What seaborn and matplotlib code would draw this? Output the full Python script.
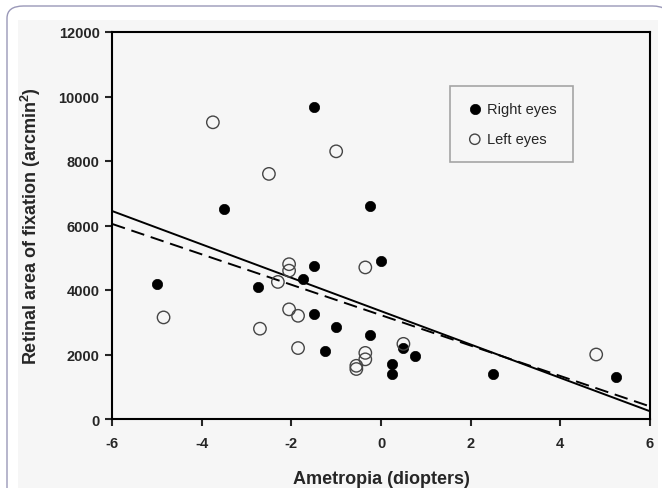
import pandas as pd
import matplotlib.pyplot as plt
import seaborn as sns
from matplotlib.patches import FancyBboxPatch, Rectangle

# Data
right_x = [-5.0, -3.5, -1.5, -2.75, -1.75, -1.5, -1.5, -1.0, -1.25, -0.25,
           0.0, -0.25, 0.25, 0.25, 0.5, 0.75, 2.5, 5.25]
right_y = [4200, 6500, 9670, 4100, 4350, 4750, 3250, 2850, 2100, 6600,
           4900, 2600, 1700, 1400, 2200, 1950, 1400, 1300]
left_x = [-4.85, -3.75, -2.5, -2.7, -1.0, -2.05, -2.05, -2.3, -2.05, -1.85,
          -1.85, -0.35, -0.35, -0.35, -0.55, -0.55, 0.5, 4.8]
left_y = [3150, 9200, 7600, 2800, 8300, 4800, 4600, 4250, 3400, 3200,
          2200, 4700, 2050, 1850, 1650, 1550, 2330, 2000]

# regression lines (end points at the axis limits)
fit_x = [-6, 6]
fit_solid_y = [6450, 240]
fit_dashed_y = [6050, 390]

df = pd.DataFrame({
    "Ametropia": right_x + left_x,
    "Area": right_y + left_y,
    "Eye": ["Right eyes"] * len(right_x) + ["Left eyes"] * len(left_x),
})
lines = pd.DataFrame({"x": fit_x, "solid": fit_solid_y, "dashed": fit_dashed_y})

sns.set_style("ticks")
plt.rcParams["font.family"] = ["Liberation Sans", "DejaVu Sans"]
plt.rcParams["mathtext.fontset"] = "custom"
plt.rcParams["mathtext.bf"] = "Liberation Sans:bold"
plt.rcParams["axes.unicode_minus"] = False

bg = "#f6f6f6"
W, H = 662, 489
fig = plt.figure(figsize=(6.62, 4.89), dpi=100)
fig.patch.set_facecolor("white")

# page frame and grey picture area
fig.patches.append(FancyBboxPatch((7 / W, -0.1), 1.0, 1.1 - 7 / H,
                                  boxstyle="round,pad=0,rounding_size=0.025",
                                  transform=fig.transFigure, facecolor="white",
                                  edgecolor="#9a98b8", linewidth=1.0, zorder=-2))
fig.patches.append(Rectangle((18 / W, 0), (658 - 18) / W, 1 - 21 / H,
                             transform=fig.transFigure, facecolor=bg,
                             edgecolor="none", zorder=-1))

ax = fig.add_axes([112 / W, 1 - 420 / H, 538 / W, 387 / H])
ax.set_facecolor(bg)

sns.scatterplot(data=df[df["Eye"] == "Right eyes"], x="Ametropia", y="Area",
                color="black", edgecolor="black", s=55, linewidth=0.5,
                ax=ax, label="Right eyes", zorder=3)
sns.scatterplot(data=df[df["Eye"] == "Left eyes"], x="Ametropia", y="Area",
                facecolor="none", edgecolor="#454545", s=80, linewidth=1.0,
                ax=ax, label="Left eyes", zorder=3)

sns.lineplot(data=lines, x="x", y="solid", color="black", linewidth=1.4, ax=ax)
sns.lineplot(data=lines, x="x", y="dashed", color="black", linewidth=1.4,
             ax=ax, linestyle=(0, (7, 3.5)))

ax.set_xlim(-6, 6)
ax.set_ylim(0, 12000)
ax.set_xticks(range(-6, 7, 2))
ax.set_yticks(range(0, 12001, 2000))
for s in ax.spines.values():
    s.set_visible(True)
    s.set_linewidth(1.5)
    s.set_color("black")
ax.tick_params(direction="out", length=5, width=1.5, labelsize=10.5)
ax.tick_params(axis="x", pad=7)
ax.tick_params(axis="y", pad=4)
for lab in ax.get_xticklabels() + ax.get_yticklabels():
    lab.set_fontweight("bold")

ax.set_xlabel("Ametropia (diopters)", fontsize=13, fontweight="bold")
ax.set_ylabel("Retinal area of fixation (arcmin$^\\mathbf{2}$)", fontsize=13,
              fontweight="bold")
ax.xaxis.set_label_coords(0.5, (420 - 471) / 387)
ax.yaxis.set_label_coords((43 - 112) / 538, 0.5)

leg = ax.legend(loc="upper left", bbox_to_anchor=((450 - 112) / 538, (420 - 87) / 387),
                frameon=True, fancybox=False, fontsize=10.5, borderpad=1.1,
                labelspacing=1.1, handletextpad=0.25, handlelength=1.2,
                borderaxespad=0)
leg.get_frame().set_edgecolor("#909090")
leg.get_frame().set_facecolor(bg)
leg.get_frame().set_linewidth(1.2)
for h in leg.legend_handles:
    h.set_sizes([55])

fig.savefig("out.png", dpi=100, facecolor=fig.get_facecolor())
